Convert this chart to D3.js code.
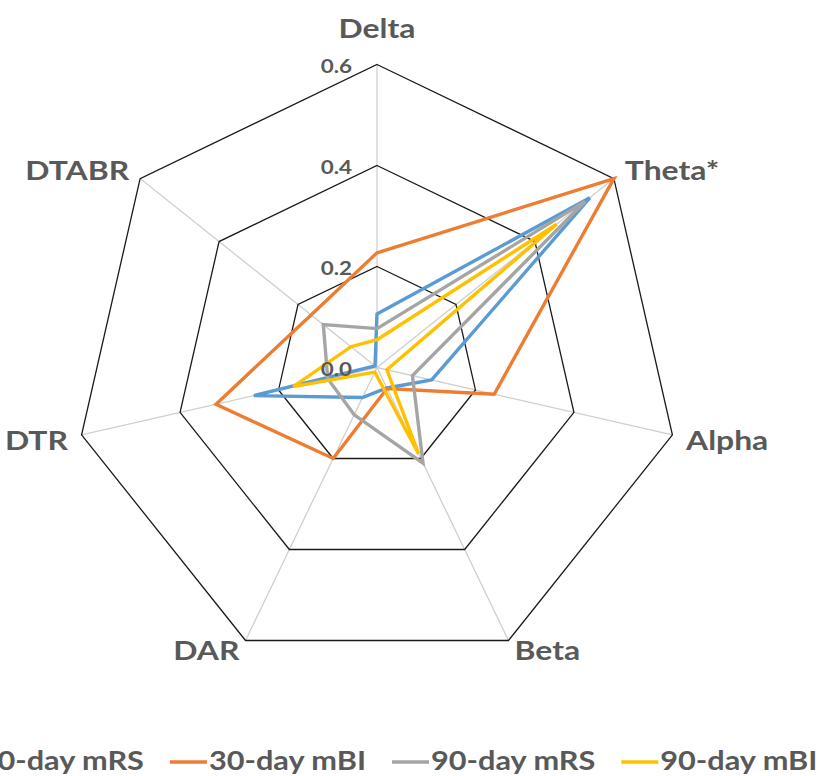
<!DOCTYPE html>
<html><head><meta charset="utf-8">
<script src="https://cdn.jsdelivr.net/npm/d3@7"></script>
<style>body{margin:0;background:#fff}svg{display:block}</style>
</head><body>
<svg id="c" width="833" height="776"></svg>
<script>
// ---- data ----
const axes = ["Delta", "Theta*", "Alpha", "Beta", "DAR", "DTR", "DTABR"];
const tickValues = [0, 0.2, 0.4, 0.6];
const tickLabels = ["0.0", "0.2", "0.4", "0.6"];
const seriesNames = ["30-day mRS", "30-day mBI", "90-day mRS", "90-day mBI"];
const mRS30 = [0.106, 0.539, 0.111, 0.045, 0.066, 0.250, 0.005];
const mBI30 = [0.227, 0.600, 0.238, 0.046, 0.200, 0.327, 0.167];
const mRS90 = [0.077, 0.527, 0.072, 0.210, 0.104, 0.100, 0.136];
const mBI90 = [0.055, 0.455, 0.020, 0.190, 0.010, 0.170, 0.066];
const seriesColors = ["#5B9BD5", "#ED7D31", "#A5A5A5", "#FFC000"];
const seriesValues = [mRS30, mBI30, mRS90, mBI90];

// ---- layout ----
const svg = d3.select("#c");
const cx = 377, cy = 367.5, R = 303;
const font = "Lato, 'Open Sans', sans-serif";
const textColor = "#595959";
const SX = 1.18; // horizontal stretch of the original figure's text

const r = d3.scaleLinear().domain([0, 0.6]).range([0, R]);
const ang = d3.scaleLinear().domain([0, axes.length]).range([0, 2 * Math.PI]);

const g = svg.append("g").attr("transform", `translate(${cx},${cy})`);
const pt = (i, v) => [Math.sin(ang(i)) * r(v), -Math.cos(ang(i)) * r(v)];

function label(parent, x, y, txt, size, anchor) {
  return parent.append("text")
    .attr("transform", `translate(${x},${y}) scale(${SX},1)`)
    .attr("text-anchor", anchor)
    .attr("font-family", font).attr("font-weight", "bold").attr("font-size", size)
    .attr("fill", textColor).text(txt);
}

// spokes
g.selectAll("line.spoke").data(axes).join("line")
  .attr("x1", 0).attr("y1", 0)
  .attr("x2", (d, i) => pt(i, 0.6)[0])
  .attr("y2", (d, i) => pt(i, 0.6)[1])
  .attr("stroke", "#cfcfcf").attr("stroke-width", 1.3);

// rings
const ring = d3.lineRadial().angle((d, i) => ang(i)).radius(d => r(d)).curve(d3.curveLinearClosed);
g.selectAll("path.ring").data(tickValues.filter(t => t > 0)).join("path")
  .attr("d", t => ring(axes.map(() => t)))
  .attr("fill", "none").attr("stroke", "#1a1a1a").attr("stroke-width", 1.3);

// series
const line = d3.lineRadial().angle((d, i) => ang(i)).radius(d => r(d)).curve(d3.curveLinearClosed);
g.selectAll("path.series").data(seriesValues).join("path")
  .attr("d", d => line(d))
  .attr("fill", "none")
  .attr("stroke", (d, i) => seriesColors[i])
  .attr("stroke-width", 3.4)
  .attr("stroke-linejoin", "miter");

// axis labels
axes.forEach((name, i) => {
  const [x, y] = pt(i, 0.6);
  const s = Math.sin(ang(i)), c = -Math.cos(ang(i));
  let anchor, dx, dy;
  if (Math.abs(s) < 0.1) { anchor = "middle"; dx = 0; dy = -27; }
  else {
    anchor = s > 0 ? "start" : "end";
    dx = s * 14;
    dy = c < -0.5 ? 1 : (c < 0.5 ? 15 : 20);
  }
  label(g, x + dx, y + dy, name, 27, anchor);
});

// tick labels
tickValues.forEach((t, i) => label(g, -25, -r(t) + 8, tickLabels[i], 19, "end"));

// legend
const legend = svg.append("g");
const items = legend.selectAll("g").data(seriesNames).join("g");
items.append("line").attr("x1", 0).attr("x2", 37).attr("y1", 0).attr("y2", 0)
  .attr("stroke", (d, i) => seriesColors[i]).attr("stroke-width", 3.4);
items.each(function(d) { label(d3.select(this), 39, 8, d, 26, "start"); });
let xpos = 0; const pos = [];
items.each(function() {
  const w = this.querySelector("text").getComputedTextLength() * SX;
  pos.push(xpos); xpos += 39 + w + 26;
});
const total = xpos - 26;
const x0 = 379 - total / 2;
items.attr("transform", (d, i) => `translate(${x0 + pos[i]},762)`);
</script>
</body></html>
